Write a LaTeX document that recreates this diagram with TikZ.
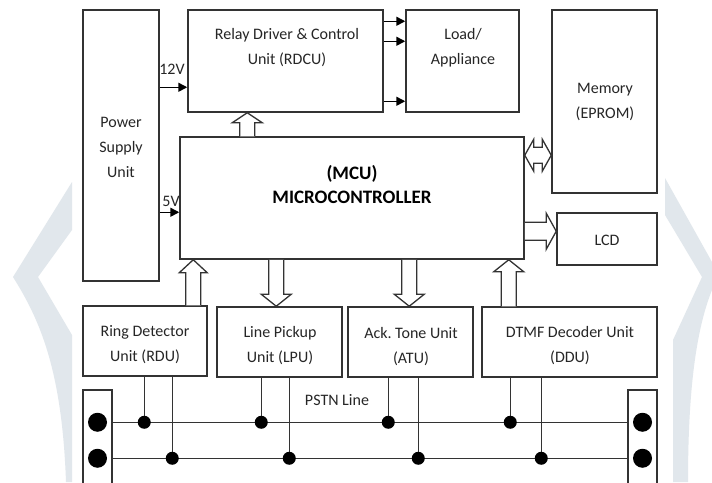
\documentclass[tikz,border=0pt]{standalone}
\usepackage{fontspec}
\setmainfont{Carlito}
\usetikzlibrary{calc,arrows.meta}
\definecolor{ink}{HTML}{333333}
\definecolor{textink}{HTML}{262626}
\definecolor{wm}{HTML}{E1E7EC}
\tikzset{
 box/.style={draw=ink, line width=1.5pt, inner sep=0pt},
 txt/.style={text=textink, font=\frenchspacing\fontsize{16}{25}\selectfont, align=center, inner sep=0pt},
 boldtxt/.style={text=black, font=\fontsize{19}{24}\selectfont\bfseries, align=center, inner sep=0pt},
 wire/.style={draw=ink, line width=1.5pt},
 sarrow/.style={draw=black, line width=1.5pt, -{Triangle[length=9pt,width=9pt]}},
 hollow/.style={draw=ink, line width=1.3pt, fill=white, line join=miter},
 dotfill/.style={fill=black},
}
% hollow single arrow: #1 start, #2 tip, #3 half shaft, #4 half head, #5 head length
\newcommand\hollowarrow[5]{%
 \coordinate (hA) at (#1); \coordinate (hB) at (#2);
 \coordinate (hH) at ($(hB)!#5!(hA)$);
 \draw[hollow] ($(hA)!#3!90:(hB)$) -- ($(hH)!#3!-90:(hA)$) -- ($(hH)!#4!-90:(hA)$) -- (hB)
   -- ($(hH)!#4!90:(hA)$) -- ($(hH)!#3!90:(hA)$) -- ($(hA)!#3!-90:(hB)$);
}
% hollow double arrow
\newcommand\hollowdouble[5]{%
 \coordinate (hA) at (#1); \coordinate (hB) at (#2);
 \coordinate (HA) at ($(hA)!#5!(hB)$); \coordinate (HB) at ($(hB)!#5!(hA)$);
 \draw[hollow] (hA) -- ($(HA)!#4!90:(hB)$) -- ($(HA)!#3!90:(hB)$) -- ($(HB)!#3!-90:(hA)$)
   -- ($(HB)!#4!-90:(hA)$) -- (hB) -- ($(HB)!#4!90:(hA)$) -- ($(HB)!#3!90:(hA)$)
   -- ($(HA)!#3!-90:(hB)$) -- ($(HA)!#4!-90:(hB)$) -- cycle;
}
% tap from a box bottom to a PSTN line
\newcommand\tapwire[3]{%
 \coordinate (tp) at ($(#1.south west)+(#2,0)$);
 \draw[wire] (tp) -- (tp |- #3);
 \fill[dotfill] (tp |- #3) circle (6.5pt);
}
\begin{document}
\begin{tikzpicture}[x=1pt,y=-1pt]
\useasboundingbox (0,0) rectangle (712,482);
\fill[white] (0,0) rectangle (712,482);
% watermark
\fill[wm] (72,182) -- (13,277) .. controls (40,320) and (62,370) .. (66,482) -- (72,482) -- (72,335) -- (38,277) -- (72,230) -- cycle;
\fill[wm] (665,178) -- (712,262) -- (712,290) .. controls (698,325) and (688,380) .. (688,482) -- (673,482) -- (673,340) -- (702,277) -- (665,215) -- cycle;

% boxes
\node[box, minimum width=76pt, minimum height=271pt] (psu) at (121,145.5) {};
\node[box, minimum width=195pt, minimum height=102pt] (rdcu) at (285.5,61) {};
\node[box, minimum width=113pt, minimum height=102pt] (load) at (462.5,61) {};
\node[box, minimum width=105pt, minimum height=183pt] (mem) at (604.5,101.5) {};
\node[box, minimum width=344pt, minimum height=122pt] (mcu) at (352,198) {};
\node[box, minimum width=100pt, minimum height=52pt] (lcd) at (607,239) {};
\node[box, minimum width=124pt, minimum height=70pt] (rdu) at (145,341) {};
\node[box, minimum width=125pt, minimum height=70pt] (lpu) at (279.5,342) {};
\node[box, minimum width=125pt, minimum height=70pt] (atu) at (410.5,342) {};
\node[box, minimum width=175pt, minimum height=70pt] (ddu) at (569.5,342) {};
\node[box, minimum width=29pt, minimum height=100pt] (termL) at (97.5,440) {};
\node[box, minimum width=29pt, minimum height=100pt] (termR) at (642.5,440) {};

% texts
\node[txt] (tpsu) at (121,147) {Power\\Supply\\Unit};
\node[txt] (trdcu) at (287,48) {Relay Driver \& Control\\Unit (RDCU)};
\node[txt] (tload) at (463,48) {Load/\\Appliance};
\node[txt] (tmem) at (605,102) {Memory\\(EPROM)};
\node[boldtxt] (tmcu) at (352,185) {(MCU)\\MICROCONTROLLER};
\node[txt] (tlcd) at (607,240) {LCD};
\node[txt] (trdu) at (145,345) {Ring Detector\\Unit (RDU)};
\node[txt] (tlpu) at (280,346) {Line Pickup\\Unit (LPU)};
\node[txt] (tatu) at (411,347) {Ack. Tone Unit\\(ATU)};
\node[txt] (tddu) at (570,346) {DTMF Decoder Unit\\(DDU)};
\node[txt] (tpstn) at (337,400) {PSTN Line};
\node[txt] (t12) at (172,69) {12V};
\node[txt] (t5) at (171,201) {5V};

% supply arrows
\coordinate (v12) at ($(psu.north east)+(0,78)$);
\coordinate (v5) at ($(psu.north east)+(0,203)$);
\draw[sarrow] (v12) -- (v12 -| rdcu.west);
\draw[sarrow] (v5) -- (v5 -| mcu.west);

% relay to load arrows
\coordinate (o1) at ($(rdcu.north east)+(0,12)$);
\coordinate (o2) at ($(rdcu.north east)+(0,32)$);
\coordinate (o3) at ($(rdcu.north east)+(0,92)$);
\draw[sarrow] (o1) -- (o1 -| load.west);
\draw[sarrow] (o2) -- (o2 -| load.west);
\draw[sarrow] (o3) -- (o3 -| load.west);

% hollow arrows
\hollowarrow{$(mcu.north west)+(68,0)$}{$(rdcu.south west)+(60,0)$}{7.5pt}{15pt}{10pt}
\hollowarrow{$(rdu.north west)+(111,0)$}{$(mcu.south west)+(14,0)$}{7.5pt}{14pt}{13pt}
\hollowarrow{$(mcu.south west)+(97,0)$}{$(lpu.north west)+(60,0)$}{7.5pt}{15pt}{12pt}
\hollowarrow{$(mcu.south west)+(230,0)$}{$(atu.north west)+(62,0)$}{7.5pt}{15pt}{12pt}
\hollowarrow{$(ddu.north west)+(27.5,0)$}{$(mcu.south west)+(329.5,0)$}{7.5pt}{15pt}{12pt}
\hollowarrow{$(mcu.north east)+(0,95)$}{$(lcd.north west)+(0,19)$}{9pt}{18pt}{10pt}
\hollowdouble{$(mcu.north east)+(0,19)$}{$(mem.north west)+(0,146)$}{8pt}{16pt}{9pt}

% PSTN lines
\coordinate (l1) at ($(termL.north east)+(0,33)$);
\coordinate (l2) at ($(termL.north east)+(0,69)$);
\draw[wire] (l1) -- (l1 -| termR.west);
\draw[wire] (l2) -- (l2 -| termR.west);
\fill[dotfill] (termL.center |- l1) circle (9.5pt);
\fill[dotfill] (termL.center |- l2) circle (9.5pt);
\fill[dotfill] (termR.center |- l1) circle (9.5pt);
\fill[dotfill] (termR.center |- l2) circle (9.5pt);

% taps
\tapwire{rdu}{62}{l1}
\tapwire{rdu}{90}{l2}
\tapwire{lpu}{45}{l1}
\tapwire{lpu}{73}{l2}
\tapwire{atu}{41}{l1}
\tapwire{atu}{71}{l2}
\tapwire{ddu}{29}{l1}
\tapwire{ddu}{60}{l2}
\end{tikzpicture}
\end{document}
